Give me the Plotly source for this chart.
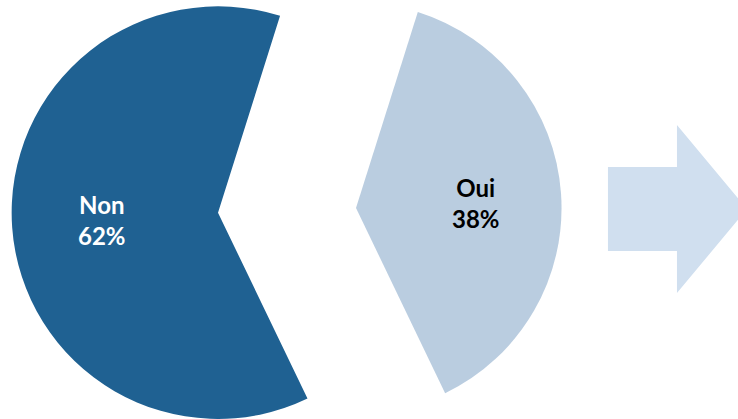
import plotly.graph_objects as go

labels = ["Oui", "Non"]
values = [38, 62]
colors_visible = ["#BACDE0", "#1F6192"]
text_colors = ["#000000", "#FFFFFF"]
arrow_color = "#D0DFEF"

fig = go.Figure()

# One trace per visible slice so that each exploded slice can be placed independently
domains = [
    dict(x=[0.2024, 0.7624], y=[0.013, 0.994]),  # Oui
    dict(x=[0.0154, 0.5754], y=[0.0, 0.985]),    # Non
]
label_pos = [(0.645, 0.515), (0.1385, 0.475)]

for i in range(len(labels)):
    cols = ["rgba(0,0,0,0)"] * len(labels)
    cols[i] = colors_visible[i]
    fig.add_trace(go.Pie(
        labels=labels,
        values=values,
        sort=False,
        direction="clockwise",
        rotation=17.5,
        marker=dict(colors=cols, line=dict(width=0)),
        textinfo="none",
        hoverinfo="skip",
        showlegend=False,
        domain=domains[i],
    ))
    fig.add_annotation(
        xref="paper", yref="paper",
        x=label_pos[i][0], y=label_pos[i][1],
        xanchor="center", yanchor="middle",
        text=f"<b>{labels[i]}<br>{values[i]}%</b>",
        showarrow=False,
        font=dict(family="Lato", size=24, color=text_colors[i]),
    )

fig.add_shape(
    type="path",
    xref="paper", yref="paper",
    path="M 0.8238,0.4010 L 0.9173,0.4010 L 0.9173,0.3007 L 1.0122,0.5012 "
         "L 0.9173,0.7017 L 0.9173,0.6014 L 0.8238,0.6014 Z",
    fillcolor=arrow_color,
    line=dict(width=0),
    layer="below",
)

fig.update_layout(
    width=738, height=419,
    margin=dict(l=0, r=0, t=0, b=0),
    paper_bgcolor="white",
    plot_bgcolor="white",
)

fig.write_html("out.html", config={"displayModeBar": False},
               post_script="document.body.style.margin='0';")
